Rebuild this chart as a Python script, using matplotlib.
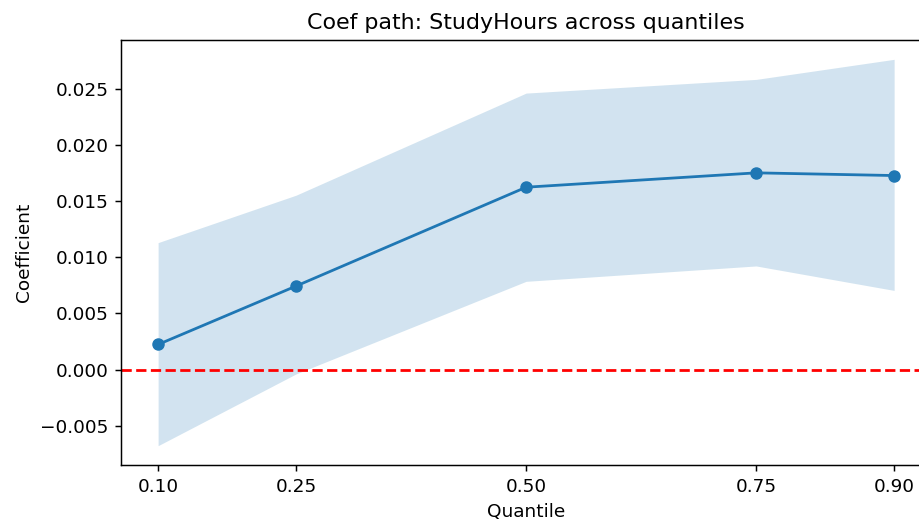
import matplotlib.pyplot as plt
import numpy as np


# Quantile regression coefficients for StudyHours
quantiles = [0.10, 0.25, 0.50, 0.75, 0.90]
coef = [0.00223, 0.00744, 0.01625, 0.01753, 0.01729]
ci_low = [-0.00679, -0.00039, 0.00786, 0.00923, 0.00705]
ci_high = [0.01131, 0.01554, 0.02464, 0.02586, 0.02765]

# original looks like default style rendered at ~1.33x scale
s = 1.33
plt.rcParams["font.size"] = 10 * s
plt.rcParams["axes.linewidth"] = 0.8 * s
plt.rcParams["xtick.major.size"] = 3.5 * s
plt.rcParams["ytick.major.size"] = 3.5 * s
plt.rcParams["xtick.major.width"] = 0.8 * s
plt.rcParams["ytick.major.width"] = 0.8 * s
plt.rcParams["xtick.major.pad"] = 3.5 * s
plt.rcParams["ytick.major.pad"] = 3.5 * s

fig = plt.figure(figsize=(9.19, 5.25), dpi=100)
# axes slightly wider than the figure, the original was cut on the right
ax = fig.add_axes([0.132, 0.1143, 0.881, 0.8095])

ax.plot(quantiles, coef, marker="o", markersize=6 * s, color="C0", linewidth=1.5 * s)
ax.fill_between(quantiles, ci_low, ci_high, color="C0", alpha=0.2, linewidth=0)
ax.axhline(0, color="red", linestyle="--", linewidth=1.5 * s)

ax.set_xticks(quantiles)
ax.set_xticklabels([f"{q:.2f}" for q in quantiles])
ax.set_xlabel("Quantile", labelpad=4 * s)
ax.set_ylabel("Coefficient", labelpad=4 * s)
ax.set_title("Coef path: StudyHours across quantiles", fontsize=12 * s, pad=6 * s)

fig.savefig("out.png", dpi=100)
